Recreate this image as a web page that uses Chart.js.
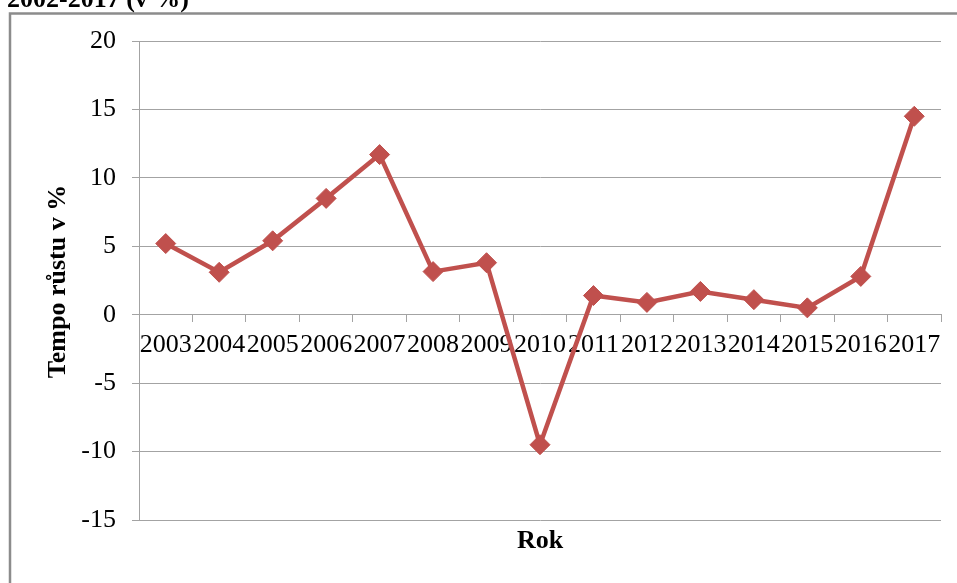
<!DOCTYPE html>
<html>
<head>
<meta charset="utf-8">
<script src="https://cdn.jsdelivr.net/npm/chart.js@4"></script>
<style>
    html, body { margin: 0; padding: 0; background: #ffffff; }
    #wrap { position: relative; width: 957px; height: 583px; }
</style>
</head>
<body>
<div id="wrap"><canvas id="growth-chart" width="957" height="583"></canvas></div>
<script>
const years = ["2003", "2004", "2005", "2006", "2007", "2008", "2009", "2010",
               "2011", "2012", "2013", "2014", "2015", "2016", "2017"];
const growth = [5.2, 3.1, 5.4, 8.5, 11.7, 3.15, 3.8, -9.5,
                1.4, 0.9, 1.7, 1.1, 0.5, 2.8, 14.5];
const yMin = -15;
const yMax = 20;
const yStep = 5;

const chartTitle = "2002-2017 (v %)";
const xTitle = "Rok";
const yTitle = "Tempo růstu v %";

const serif = "'Liberation Serif', 'Times New Roman', serif";
const gridGray = "#a3a3a3";
const lineRed = "#c0504d";

// frame, heading and axis titles drawn straight onto the canvas
const framePlugin = {
    id: "frame",
    beforeDraw(chart) {
        const ctx = chart.ctx;
        ctx.save();
        ctx.fillStyle = "#ffffff";
        ctx.fillRect(0, 0, chart.width, chart.height);
        ctx.strokeStyle = "#8c8c8c";
        ctx.lineWidth = 2.5;
        ctx.strokeRect(10, 13.5, 1200, 1200);
        ctx.fillStyle = "#000000";
        ctx.font = "bold 26px " + serif;
        ctx.textBaseline = "alphabetic";
        ctx.textAlign = "left";
        ctx.fillText(chartTitle, 7, 7);
        ctx.restore();
    },
    afterDraw(chart) {
        const ctx = chart.ctx;
        const area = chart.chartArea;
        ctx.save();
        ctx.fillStyle = "#000000";
        ctx.font = "bold 26px " + serif;
        ctx.textAlign = "center";
        ctx.textBaseline = "alphabetic";
        ctx.fillText(xTitle, (area.left + area.right) / 2, area.bottom + 28);
        ctx.translate(65, (area.top + area.bottom) / 2 + 1);
        ctx.rotate(-Math.PI / 2);
        ctx.fillText(yTitle, 0, 0);
        ctx.restore();
    }
};

const ctx = document.getElementById("growth-chart").getContext("2d");

new Chart(ctx, {
    type: "line",
    data: {
        labels: years,
        datasets: [{
            data: growth,
            borderColor: lineRed,
            backgroundColor: lineRed,
            borderWidth: 4.5,
            pointStyle: "rectRot",
            pointRadius: 10,
            pointBorderWidth: 1,
            pointBackgroundColor: lineRed,
            pointBorderColor: lineRed,
            tension: 0,
            fill: false
        }]
    },
    options: {
        responsive: false,
        animation: false,
        layout: {
            padding: { top: 41, right: 16, bottom: 63, left: 0 }
        },
        plugins: {
            legend: { display: false },
            tooltip: { enabled: false }
        },
        scales: {
            x: {
                type: "category",
                position: { y: 0 },
                offset: true,
                grid: {
                    offset: true,
                    drawOnChartArea: false,
                    drawTicks: true,
                    tickLength: 7,
                    color: gridGray
                },
                border: { display: true, color: gridGray, width: 1 },
                ticks: {
                    autoSkip: false,
                    maxRotation: 0,
                    minRotation: 0,
                    padding: 8,
                    color: "#000000",
                    font: { family: serif, size: 26 }
                }
            },
            y: {
                min: yMin,
                max: yMax,
                afterFit(scale) { scale.width = 139; },
                grid: {
                    color: gridGray,
                    tickLength: 7,
                    drawTicks: true
                },
                border: { display: true, color: gridGray, width: 1 },
                ticks: {
                    stepSize: yStep,
                    padding: 16,
                    color: "#000000",
                    font: { family: serif, size: 26 }
                }
            }
        }
    },
    plugins: [framePlugin]
});
</script>
</body>
</html>
